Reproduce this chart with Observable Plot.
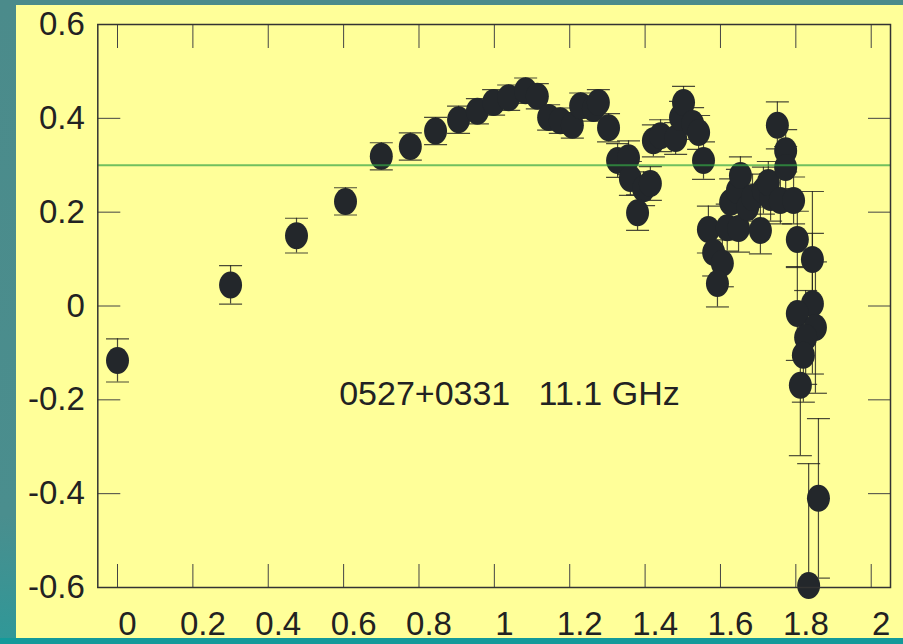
<!DOCTYPE html>
<html>
<head>
<meta charset="utf-8">
<script src="https://cdn.jsdelivr.net/npm/d3@7"></script>
<script src="https://cdn.jsdelivr.net/npm/@observablehq/plot@0.6"></script>
<style>
  html, body { margin: 0; padding: 0; }
  body { width: 903px; height: 644px; overflow: hidden;
         background: linear-gradient(to bottom, #4b8b8b 0%, #4a8e8e 80%, #2f9898 100%); }
  #wrap { position: relative; width: 903px; height: 644px; }
  #panel { position: absolute; left: 16px; top: 5px; width: 887px; height: 633px; background: #ffff99; }
  #bottom { position: absolute; left: 0; top: 638px; width: 903px; height: 6px; background: #139a9a; }
  #chart { position: absolute; left: 0; top: 0; }
</style>
</head>
<body>
<div id="wrap"><div id="panel"></div><div id="bottom"></div><div id="chart"></div></div>
<script>
// phase (x), value (y), error (e)
const xs = [0.000, 0.300, 0.475, 0.605, 0.700, 0.777, 0.844, 0.905, 0.955, 0.998,
            1.038, 1.083, 1.114, 1.144, 1.175, 1.207, 1.229, 1.263, 1.276, 1.303,
            1.327, 1.356, 1.361, 1.396, 1.414, 1.380, 1.422, 1.441, 1.481, 1.494,
            1.502, 1.526, 1.542, 1.555, 1.568, 1.582, 1.605, 1.592, 1.618, 1.627,
            1.645, 1.653, 1.648, 1.672, 1.685, 1.706, 1.714, 1.733, 1.727, 1.751,
            1.773, 1.773, 1.759, 1.794, 1.804, 1.844, 1.844, 1.804, 1.852, 1.826,
            1.820, 1.812, 1.860, 1.834];
const ys = [-0.116, 0.045, 0.150, 0.223, 0.319, 0.340, 0.373, 0.397, 0.415, 0.434,
            0.444, 0.459, 0.447, 0.402, 0.395, 0.385, 0.427, 0.421, 0.434, 0.380,
            0.310, 0.316, 0.272, 0.250, 0.261, 0.199, 0.352, 0.363, 0.357, 0.402,
            0.434, 0.389, 0.370, 0.310, 0.163, 0.114, 0.091, 0.048, 0.167, 0.221,
            0.246, 0.278, 0.165, 0.210, 0.231, 0.161, 0.246, 0.231, 0.263, 0.385,
            0.331, 0.295, 0.225, 0.225, 0.142, 0.099, 0.005, -0.016, -0.046, -0.067,
            -0.105, -0.169, -0.410, -0.596];
const es = [0.046, 0.041, 0.037, 0.029, 0.029, 0.029, 0.029, 0.029, 0.027, 0.027,
            0.027, 0.027, 0.027, 0.027, 0.027, 0.027, 0.027, 0.027, 0.027, 0.030,
            0.036, 0.036, 0.036, 0.036, 0.036, 0.038, 0.034, 0.034, 0.034, 0.034,
            0.034, 0.034, 0.036, 0.040, 0.050, 0.050, 0.050, 0.050, 0.050, 0.050,
            0.045, 0.040, 0.050, 0.050, 0.050, 0.050, 0.050, 0.050, 0.045, 0.050,
            0.045, 0.045, 0.050, 0.050, 0.060, 0.145, 0.150, 0.100, 0.140, 0.100,
            0.100, 0.150, 0.170, 0.260];
const xTicks = [0, 0.2, 0.4, 0.6, 0.8, 1, 1.2, 1.4, 1.6, 1.8, 2];
const yTicks = [-0.6, -0.4, -0.2, 0, 0.2, 0.4, 0.6];
const refLevel = [0.3];
const noteText = "0527+0331\u00a0\u00a0\u00a011.1 GHz";
const noteX = 1.04, noteY = -0.187;

const data = xs.map((x, i) => ({x, y: ys[i], e: es[i]}));

const k = 0.5523;
const ellipse = {
  draw(ctx) {
    const rx = 11.5, ry = 13.5;
    ctx.moveTo(rx, 0);
    ctx.bezierCurveTo(rx, ry * k, rx * k, ry, 0, ry);
    ctx.bezierCurveTo(-rx * k, ry, -rx, ry * k, -rx, 0);
    ctx.bezierCurveTo(-rx, -ry * k, -rx * k, -ry, 0, -ry);
    ctx.bezierCurveTo(rx * k, -ry, rx, -ry * k, rx, 0);
    ctx.closePath();
  }
};
const cap = { draw(ctx) { ctx.moveTo(-11.5, 0); ctx.lineTo(11.5, 0); } };

const barStyle = {stroke: "#1e1e1e", strokeWidth: 1.2, strokeOpacity: 0.8};

const chart = Plot.plot({
  width: 903,
  height: 644,
  marginLeft: 97.3,
  marginRight: 13,
  marginTop: 24,
  marginBottom: 57,
  style: {background: "transparent", fontFamily: "'Liberation Sans', Arial, sans-serif", fontSize: "33px", color: "#222", overflow: "visible"},
  x: {domain: [-0.0523, 2.0512]},
  y: {domain: [-0.6, 0.6]},
  marks: [
    Plot.ruleX(data, {x: "x", y1: d => d.y - d.e, y2: d => d.y + d.e, ...barStyle, clip: true}),
    Plot.dot(data, {x: "x", y: d => d.y + d.e, symbol: cap, fill: "none", ...barStyle, clip: true}),
    Plot.dot(data, {x: "x", y: d => d.y - d.e, symbol: cap, fill: "none", ...barStyle, clip: true}),
    Plot.dot(data, {x: "x", y: "y", symbol: ellipse, fill: "#23272b", stroke: "none"}),
    Plot.ruleY(refLevel, {stroke: "#35a545", strokeOpacity: 0.7, strokeWidth: 2}),
    Plot.text([noteText], {x: noteX, y: noteY, text: d => d, fill: "#222", fontSize: 34, textAnchor: "middle"}),
    Plot.axisX({ticks: xTicks, anchor: "bottom", tickSize: -23, fill: "none", label: null, stroke: "#444"}),
    Plot.axisX({ticks: xTicks, anchor: "top", tickSize: -23, fill: "none", label: null, stroke: "#444"}),
    Plot.axisY({ticks: yTicks, anchor: "left", tickSize: -23, fill: "none", label: null, stroke: "#444"}),
    Plot.axisY({ticks: yTicks, anchor: "right", tickSize: -23, fill: "none", label: null, stroke: "#444"}),
    Plot.axisX({ticks: xTicks, anchor: "bottom", tickSize: 0, tickPadding: 24, dx: 10, tickFormat: d => String(d), label: null, fill: "#222"}),
    Plot.axisY({ticks: yTicks, anchor: "left", tickSize: 0, tickPadding: 13, tickFormat: d => String(d), label: null, fill: "#222"}),
    Plot.frame({stroke: "#333", strokeWidth: 1.5})
  ]
});
document.getElementById("chart").appendChild(chart);
</script>
</body>
</html>
